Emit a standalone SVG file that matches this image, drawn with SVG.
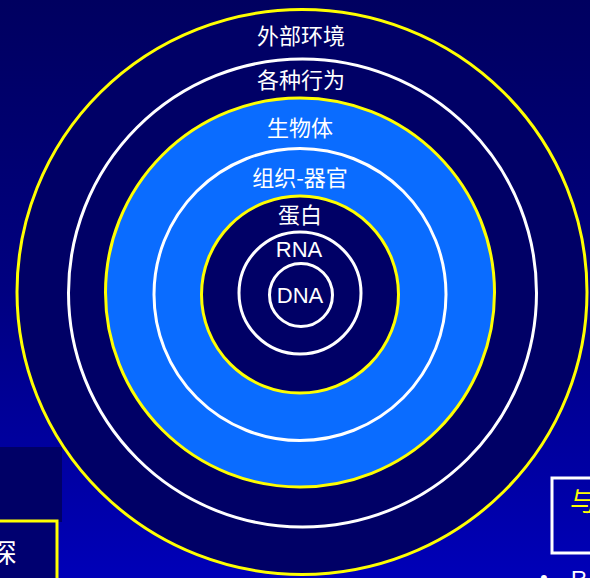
<svg xmlns="http://www.w3.org/2000/svg" width="590" height="578" viewBox="0 0 590 578">
<defs>
<linearGradient id="bg" x1="0" y1="0" x2="0" y2="1">
<stop offset="0" stop-color="#000060"/>
<stop offset="0.5" stop-color="#000080"/>
<stop offset="1" stop-color="#0000b8"/>
</linearGradient>
<style>
.dark{fill:#000066}
.ys{stroke:#ffff00;stroke-width:3}
.ws{stroke:#ffffff;stroke-width:3}
.lbl{fill:#ffffff;font-family:"Noto Sans CJK SC","Liberation Sans",sans-serif;font-size:22px;text-anchor:middle}
.lat{fill:#ffffff;font-family:"Liberation Sans",Arial,sans-serif;font-size:22px;text-anchor:middle}
</style>
</defs>
<rect width="590" height="578" fill="url(#bg)"/>
<rect x="0" y="447" width="62" height="75" fill="#000066"/>
<g id="bl-box">
<rect x="-10" y="521" width="67" height="70" fill="#000070" stroke="#ffff00" stroke-width="3"/>
<text x="3" y="563" fill="#ffffff" font-family="Noto Sans CJK SC,sans-serif" font-size="27" text-anchor="middle">探</text>
</g>
<g id="br-box">
<rect x="552" y="478" width="50" height="75" fill="none" stroke="#ffffff" stroke-width="3"/>
<text x="570" y="511" fill="#ffff00" font-family="Noto Sans CJK SC,sans-serif" font-size="26">与</text>
<text x="540" y="585" fill="#ffffff" font-family="Liberation Sans,sans-serif" font-size="22">•</text>
<text x="571" y="586" fill="#ffffff" font-family="Liberation Sans,sans-serif" font-size="22">R</text>
</g>
<g id="env"><ellipse cx="302" cy="292" rx="285" ry="282.5" class="dark ys"/><text x="301" y="44" class="lbl">外部环境</text></g>
<g id="behavior"><circle cx="302.5" cy="293" r="234" class="dark ws"/><text x="301" y="88" class="lbl">各种行为</text></g>
<g id="organism"><circle cx="300" cy="292.5" r="194.5" fill="#0a6cff" class="ys"/><text x="300" y="136" class="lbl">生物体</text></g>
<g id="tissue"><circle cx="300" cy="294.5" r="146" fill="#0a6cff" class="ws"/><text x="300" y="186" class="lbl">组织-器官</text></g>
<g id="protein"><circle cx="300" cy="294.5" r="98.5" class="dark ys"/><text x="300" y="223" class="lbl">蛋白</text></g>
<g id="rna"><circle cx="300" cy="293" r="61" class="dark ws"/><text x="299" y="257" class="lat">RNA</text></g>
<g id="dna"><circle cx="301" cy="295" r="31.5" class="dark ws"/><text x="300" y="303" class="lat">DNA</text></g>
<g id="connectors"/>
</svg>
